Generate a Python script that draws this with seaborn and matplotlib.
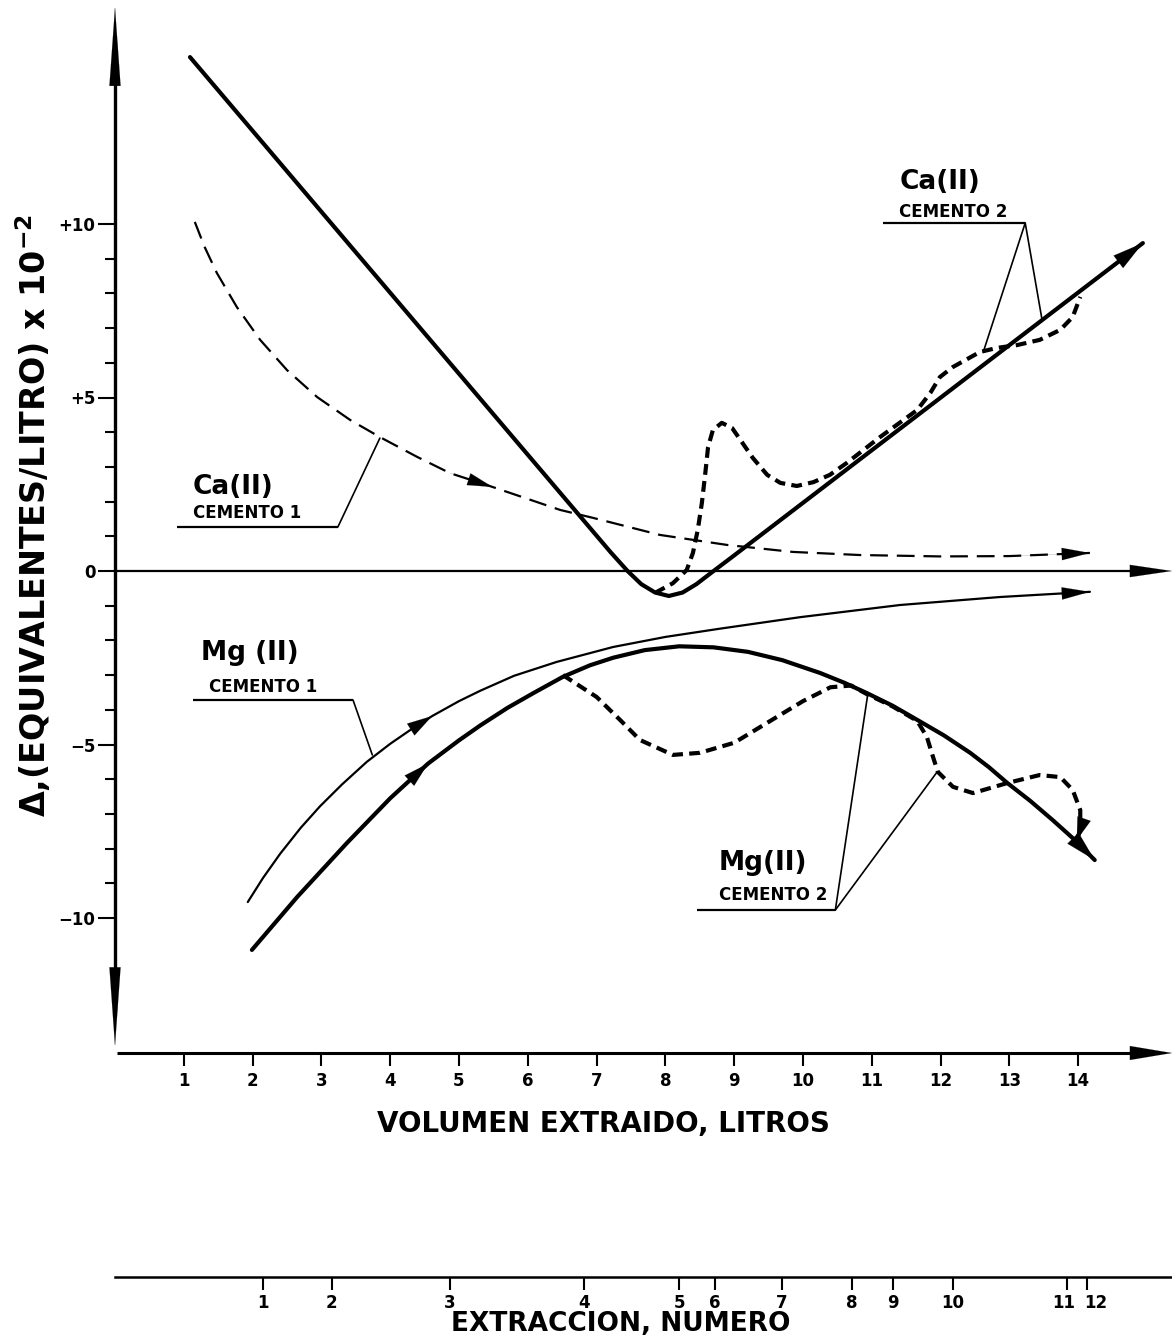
import matplotlib
matplotlib.use("Agg")
import matplotlib.pyplot as plt
import matplotlib.transforms as mtransforms
import seaborn as sns

# ---------------- data (x: litres extracted, y: delta eq/L x 10^-2) ----------------
ca2_solid_x = [1.09, 6.90, 7.20, 7.45, 7.65, 7.85, 8.05, 8.25, 8.45, 8.70, 9.00, 14.94]
ca2_solid_y = [14.81, 1.25, 0.55, 0.00, -0.38, -0.62, -0.72, -0.62, -0.38, 0.00, 0.45, 9.45]

ca2_dash_x = [7.85, 8.11, 8.31, 8.40, 8.47, 8.53, 8.58, 8.62, 8.69, 8.82, 8.97, 9.11, 9.27,
              9.48, 9.67, 9.91, 10.15, 10.39, 10.64, 11.12, 11.66, 11.85, 11.99, 12.18,
              12.57, 12.82, 13.11, 13.44, 13.74, 13.92, 14.03]
ca2_dash_y = [-0.63, -0.35, 0.03, 0.52, 1.18, 1.96, 2.82, 3.57, 4.06, 4.27, 4.12, 3.72, 3.26,
              2.77, 2.54, 2.45, 2.56, 2.77, 3.12, 3.86, 4.64, 5.13, 5.59, 5.88,
              6.31, 6.43, 6.51, 6.66, 6.95, 7.32, 7.90]

ca1_x = [1.16, 1.30, 1.48, 1.77, 2.11, 2.50, 2.94, 3.42, 3.85, 4.39, 4.87, 5.49, 6.47, 6.95,
         7.92, 8.90, 9.85, 10.83, 12.00, 13.00, 14.17]
ca1_y = [10.06, 9.35, 8.59, 7.61, 6.66, 5.79, 5.01, 4.35, 3.86, 3.29, 2.82, 2.42, 1.76, 1.53,
         1.04, 0.75, 0.55, 0.46, 0.42, 0.43, 0.52]

mg1_x = [1.93, 2.15, 2.40, 2.70, 2.98, 3.30, 3.66, 4.00, 4.33, 4.61, 5.00, 5.31, 5.80, 6.42,
         7.24, 8.00, 8.80, 9.96, 11.41, 12.86, 14.17]
mg1_y = [-9.54, -8.85, -8.15, -7.40, -6.78, -6.15, -5.50, -4.98, -4.53, -4.18, -3.75, -3.45,
         -3.02, -2.62, -2.19, -1.90, -1.66, -1.33, -0.98, -0.75, -0.60]

mg2_solid_x = [1.99, 2.65, 3.37, 4.00, 4.55, 5.00, 5.31, 5.70, 6.08, 6.51, 6.90, 7.24, 7.70,
               8.20, 8.70, 9.20, 9.70, 10.25, 10.60, 10.93, 11.30, 11.66, 12.05, 12.43,
               12.70, 12.97, 13.30, 13.63, 13.95, 14.24]
mg2_solid_y = [-10.92, -9.39, -7.84, -6.55, -5.55, -4.88, -4.45, -3.95, -3.52, -3.05, -2.72,
               -2.50, -2.28, -2.17, -2.20, -2.33, -2.57, -2.94, -3.22, -3.52, -3.88, -4.29,
               -4.74, -5.24, -5.65, -6.11, -6.62, -7.18, -7.75, -8.33]

mg2_dash_x = [6.51, 7.00, 7.34, 7.63, 8.11, 8.50, 9.00, 9.50, 10.00, 10.40, 10.70, 10.93, 11.30,
              11.66, 11.80, 11.89, 11.96, 12.18, 12.47, 12.97, 13.44, 13.74, 13.92, 14.03,
              14.03, 13.98]
mg2_dash_y = [-3.00, -3.63, -4.29, -4.87, -5.30, -5.24, -4.95, -4.35, -3.75, -3.35, -3.30,
              -3.55, -3.90, -4.32, -4.78, -5.36, -5.79, -6.22, -6.40, -6.11, -5.88, -5.94,
              -6.31, -6.89, -7.46, -7.75]

# axis ticks
vol_ticks = list(range(1, 15))
y_major = [-10, -5, 0, 5, 10]
y_major_labels = ["\u221210", "\u22125", "0", "+5", "+10"]
y_minor = [v for v in range(-10, 11) if v % 5 != 0]
extr_pos = [2.15, 3.15, 4.87, 6.82, 8.20, 8.72, 9.69, 10.71, 11.31, 12.18, 13.84, 14.13]
extr_labels = [str(i) for i in range(1, 13)]

# labels: (line 1, line 2, pos1, pos2, underline x0, x1, y, leader targets)
labels = [
    ("Ca(II)", "CEMENTO 1", (1.72, 2.42), (1.92, 1.67), 0.90, 3.24, 1.27, [(3.85, 3.83)]),
    ("Mg (II)", "CEMENTO 1", (1.96, -2.36), (2.15, -3.34), 1.13, 3.46, -3.72, [(3.74, -5.30)]),
    ("Ca(II)", "CEMENTO 2", (11.99, 11.21), (12.18, 10.35), 11.16, 13.23, 10.03,
     [(12.62, 6.31), (13.47, 7.29)]),
    ("Mg(II)", "CEMENTO 2", (9.42, -8.42), (9.56, -9.34), 8.46, 10.47, -9.77,
     [(10.94, -3.57), (11.95, -5.79)]),
]

# ---------------- figure ----------------
sns.set_theme(style="white")
plt.rcParams["font.family"] = ["DejaVu Sans"]
plt.rcParams["font.weight"] = "bold"
plt.rcParams["text.color"] = "black"
plt.rcParams["axes.labelcolor"] = "black"
plt.rcParams["xtick.color"] = "black"
plt.rcParams["ytick.color"] = "black"

W, H = 1172, 1339
fig = plt.figure(figsize=(W / 100, H / 100), dpi=100)
fig.patch.set_facecolor("white")
px_x0, px_y0, sx, sy = 115, 571, 68.8, 34.7
xmax = (W - px_x0) / sx
ymin = (px_y0 - 1053) / sy
ymax = px_y0 / sy
ax = fig.add_axes([px_x0 / W, 1 - 1053 / H, (W - px_x0) / W, 1053 / H])
ax.set_xlim(0, xmax)
ax.set_ylim(ymin, ymax)
ax.set_facecolor("white")
for s in ax.spines.values():
    s.set_visible(False)


def draw(x, y, lw, dash=None):
    n0 = len(ax.lines)
    sns.lineplot(x=x, y=y, sort=False, estimator=None, color="black", linewidth=lw,
                 ax=ax, legend=False)
    ln = ax.lines[n0]
    if dash is not None:
        ln.set_dashes(dash)
    ln.set_solid_capstyle("round")
    ln.set_clip_on(False)
    return ln


def head(p_from, p_to, hl=1.1, hw=0.28, ms=20):
    ax.annotate("", xy=p_to, xytext=p_from,
                arrowprops=dict(arrowstyle=f"-|>,head_length={hl},head_width={hw}",
                                mutation_scale=ms, color="black", lw=0.1,
                                shrinkA=0, shrinkB=0),
                annotation_clip=False)


def arrow(x, y, i_from, i_to, **kw):
    head((x[i_from], y[i_from]), (x[i_to], y[i_to]), **kw)


draw(ca2_solid_x, ca2_solid_y, 3.0)
draw(ca2_dash_x, ca2_dash_y, 3.0, (2.6, 1.5))
draw(ca1_x, ca1_y, 1.6, (8, 4))
draw(mg1_x, mg1_y, 1.6)
draw(mg2_solid_x, mg2_solid_y, 3.0)
draw(mg2_dash_x, mg2_dash_y, 3.0, (2.6, 1.5))

# arrowheads along curves
arrow(ca2_solid_x, ca2_solid_y, -2, -1)
arrow(ca1_x, ca1_y, -2, -1, hl=1.0, hw=0.22)
arrow(ca1_x, ca1_y, 10, 11, hl=0.9, hw=0.22)
arrow(mg1_x, mg1_y, -2, -1, hl=1.0, hw=0.22)
arrow(mg1_x, mg1_y, 8, 9, hl=0.9, hw=0.25)
arrow(mg2_solid_x, mg2_solid_y, -2, -1)
arrow(mg2_solid_x, mg2_solid_y, 3, 4, hl=0.9, hw=0.25)
arrow(mg2_dash_x, mg2_dash_y, -2, -1, hl=0.8, hw=0.25)

# axis lines with arrowheads
y_top, y_bot = 16.25, -13.69
ax.plot([0, 0], [y_bot + 1.0, y_top - 1.0], color="black", lw=2.4, clip_on=False,
        solid_capstyle="butt")
head((0, y_top - 3), (0, y_top), hl=2.8, hw=0.2)
head((0, y_bot + 3), (0, y_bot), hl=2.8, hw=0.2)
ax.plot([0.03, xmax - 0.3], [ymin, ymin], color="black", lw=2.2, clip_on=False,
        solid_capstyle="butt")
head((xmax - 1.0, ymin), (xmax, ymin), hl=1.5, hw=0.25)
ax.plot([0, xmax - 0.3], [0, 0], color="black", lw=1.6, clip_on=False, solid_capstyle="butt")
head((xmax - 1.0, 0), (xmax, 0), hl=1.5, hw=0.22)

# ticks
ax.set_xticks(vol_ticks)
ax.set_xticklabels([str(v) for v in vol_ticks])
ax.set_yticks(y_major)
ax.set_yticklabels(y_major_labels)
ax.set_yticks(y_minor, minor=True)
ax.tick_params(axis="x", which="major", direction="out", length=9, width=1.5, pad=5,
               labelsize=12, bottom=True)
ax.tick_params(axis="y", which="major", direction="out", length=12, width=1.5, pad=2,
               labelsize=12, left=True)
ax.tick_params(axis="y", which="minor", direction="out", length=7, width=1.5, left=True)
for t in ax.get_xticklabels() + ax.get_yticklabels():
    t.set_fontweight("bold")

ax.set_xlabel("VOLUMEN EXTRAIDO, LITROS", fontsize=20, fontweight="bold")
ax.xaxis.set_label_coords(603 / W, 1 - 1110 / H, transform=fig.transFigure)
ax.set_ylabel("\u0394,(EQUIVALENTES/LITRO) x 10$^{-2}$", fontsize=24, fontweight="bold")
ax.yaxis.set_label_coords(53 / W, 1 - 515 / H, transform=fig.transFigure)

# annotations (labels + leader lines)
for t1, t2, p1, p2, ux0, ux1, uy, targets in labels:
    ax.text(p1[0], p1[1], t1, ha="center", va="center", fontsize=19, fontweight="bold")
    ax.text(p2[0], p2[1], t2, ha="center", va="center", fontsize=12, fontweight="bold")
    ax.plot([ux0, ux1], [uy, uy], color="black", lw=1.6, solid_capstyle="butt")
    for tx, ty in targets:
        ax.plot([ux1, tx], [uy, ty], color="black", lw=1.2)

# second axis: extraction number
ax2 = fig.add_axes([px_x0 / W, 1 - 1277 / H, (W - px_x0) / W, 0.0005])
ax2.set_xlim(0, xmax)
ax2.set_facecolor("none")
for k in ["left", "right", "top"]:
    ax2.spines[k].set_visible(False)
ax2.spines["bottom"].set_linewidth(1.8)
ax2.spines["bottom"].set_color("black")
ax2.set_yticks([])
ax2.set_xticks(extr_pos)
ax2.set_xticklabels(extr_labels)
ax2.tick_params(axis="x", direction="out", length=9, width=1.5, pad=3, labelsize=12,
                bottom=True)
for t in ax2.get_xticklabels():
    t.set_fontweight("bold")
ticks2 = ax2.xaxis.get_major_ticks()
for idx, dx in [(10, -4), (11, 9)]:
    lab = ticks2[idx].label1
    lab.set_transform(lab.get_transform() +
                      mtransforms.ScaledTranslation(dx / 100, 0, fig.dpi_scale_trans))
ax2.set_xlabel("EXTRACCION, NUMERO", fontsize=19, fontweight="bold")
ax2.xaxis.set_label_coords(621 / W, 1 - 1311 / H, transform=fig.transFigure)

fig.savefig("out.png", dpi=100, facecolor="white")
